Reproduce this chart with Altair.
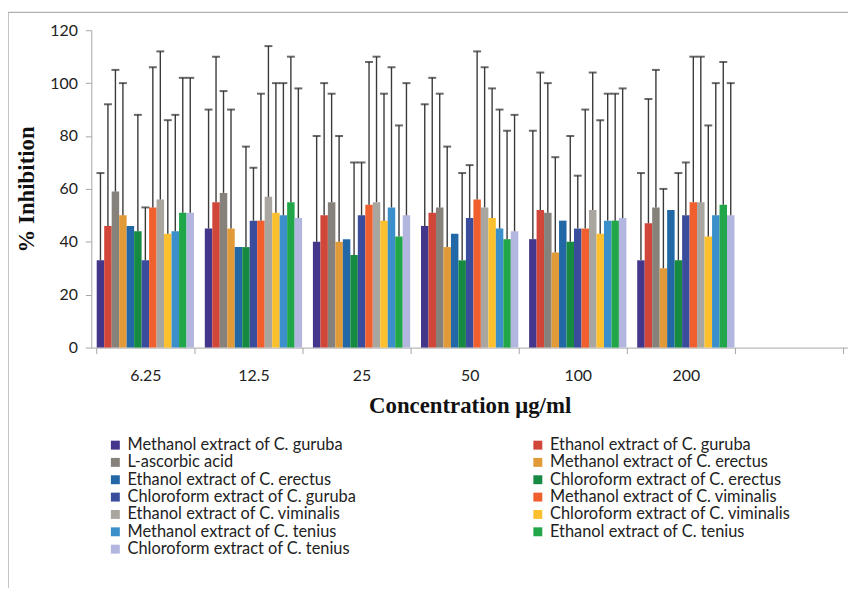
import altair as alt
import pandas as pd

concentrations = ["6.25", "12.5", "25", "50", "100", "200"]
x_domain = concentrations + [" "]

series = [
    "Methanol extract of C. guruba",
    "Ethanol extract of C. guruba",
    "L-ascorbic acid",
    "Methanol extract of C. erectus",
    "Ethanol extract of C. erectus",
    "Chloroform extract of C. erectus",
    "Chloroform extract of C. guruba",
    "Methanol extract of C. viminalis",
    "Ethanol extract of C. viminalis",
    "Chloroform extract of C. viminalis",
    "Methanol extract of C. tenius",
    "Ethanol extract of C. tenius",
    "Chloroform extract of C. tenius",
]

colors = [
    "#44368a", "#d0473a", "#86817b", "#e09a38", "#2368a6", "#178a42",
    "#3a4d9c", "#f0602e", "#a9a59f", "#fcc02f", "#3b8fcb", "#22a64a", "#b3b6df",
]

# mean values per concentration (rows) for each series (columns, in series order)
values = {
    "6.25": [33, 46, 59, 50, 46, 44, 33, 53, 56, 43, 44, 51, 51],
    "12.5": [45, 55, 58.5, 45, 38, 38, 48, 48, 57, 51, 50, 55, 49],
    "25":   [40, 50, 55, 40, 41, 35, 50, 54, 55, 48, 53, 42, 50],
    "50":   [46, 51, 53, 38, 43, 33, 49, 56, 53, 49, 45, 41, 44],
    "100":  [41, 52, 51, 36, 48, 40, 45, 45, 52, 43, 48, 48, 49],
    "200":  [33, 47, 53, 30, 52, 33, 50, 55, 55, 42, 50, 54, 50],
}

# top of the error bar (None = no error bar drawn)
uppers = {
    "6.25": [66, 92, 105, 100, None, 88, 53, 106, 112, 86, 88, 102, 102],
    "12.5": [90, 110, 97, 90, None, 76, 68, 96, 114, 100, 100, 110, 98],
    "25":   [80, 100, 96, 80, None, 70, 70, 108, 110, 96, 106, 84, 100],
    "50":   [92, 102, 96, 76, None, 66, 69, 112, 106, 98, 90, 82, 88],
    "100":  [82, 104, 100, 72, None, 80, 65, 90, 104, 86, 96, 96, 98],
    "200":  [66, 94, 105, 60, None, 66, 70, 110, 110, 84, 100, 108, 100],
}

rows = []
for c in concentrations:
    for i, s in enumerate(series):
        rows.append({"conc": c, "series": s, "value": values[c][i], "upper": uppers[c][i]})
df = pd.DataFrame(rows)
err = df.dropna(subset=["upper"])

# legend is laid out column by column: interleave so it reads row by row like the original
legend_idx = list(range(0, 13, 2)) + list(range(1, 13, 2))
legend_domain = [series[i] for i in legend_idx]
legend_range = [colors[i] for i in legend_idx]

label_font = "Lato"
title_font = "Liberation Serif"

x_enc = alt.X(
    "conc:N",
    scale=alt.Scale(domain=x_domain, paddingInner=0.1, paddingOuter=0.05),
    sort=x_domain,
    axis=alt.Axis(
        title="Concentration μg/ml",
        labelAngle=0,
        tickBand="extent",
        tickSize=6,
        labelPadding=14,
        titlePadding=11,
    ),
)
xoff = alt.XOffset("series:N", sort=series,
                   scale=alt.Scale(domain=series, paddingInner=0, paddingOuter=0))

bars = alt.Chart(df).mark_bar(width={"band": 1}).encode(
    x=x_enc,
    xOffset=xoff,
    y=alt.Y(
        "value:Q",
        scale=alt.Scale(domain=[0, 120], nice=False),
        axis=alt.Axis(title="% Inhibition", values=[0, 20, 40, 60, 80, 100, 120],
                      tickSize=6, labelPadding=8, titlePadding=11),
    ),
    color=alt.Color(
        "series:N",
        scale=alt.Scale(domain=legend_domain, range=legend_range),
        legend=alt.Legend(
            title=None,
            orient="none",
            legendX=16,
            legendY=410,
            columns=2,
            columnPadding=174,
            rowPadding=0.5,
            symbolType="square",
            symbolSize=81,
            symbolStrokeWidth=0,
            labelFont=label_font,
            labelFontSize=16.5,
            labelColor="#222222",
            labelLimit=400,
        ),
    ),
)

rules = alt.Chart(err).mark_rule(color="#3a3a3a", strokeWidth=1.4).encode(
    x=alt.X("conc:N", scale=alt.Scale(domain=x_domain), sort=x_domain),
    xOffset=xoff,
    y="value:Q",
    y2="upper:Q",
)

caps = alt.Chart(err).mark_tick(color="#2a2a2a", thickness=2, size=8).encode(
    x=alt.X("conc:N", scale=alt.Scale(domain=x_domain), sort=x_domain),
    xOffset=xoff,
    y="upper:Q",
)

frame = alt.Chart(alt.Data(values=[{}])).mark_rect(
    fill=None, stroke="#b0b0b0", strokeWidth=1.5
).encode(
    x=alt.value(-84), x2=alt.value(800), y=alt.value(-18), y2=alt.value(700)
)

chart = alt.layer(frame, bars, rules, caps).properties(
    width=763,
    height=320,
    autosize=alt.AutoSizeParams(type="none"),
    padding={"left": 84, "top": 20, "right": 0, "bottom": 240},
).configure_view(stroke=None).configure_axis(
    domainColor="#a6a6a6",
    tickColor="#a6a6a6",
    grid=False,
    labelFont=label_font,
    labelFontSize=16,
    labelColor="#222222",
    titleFont=title_font,
    titleFontSize=23,
    titleFontWeight="bold",
    titleColor="#111111",
)

chart.save("out.html", embed_options={"renderer": "svg", "actions": False})
